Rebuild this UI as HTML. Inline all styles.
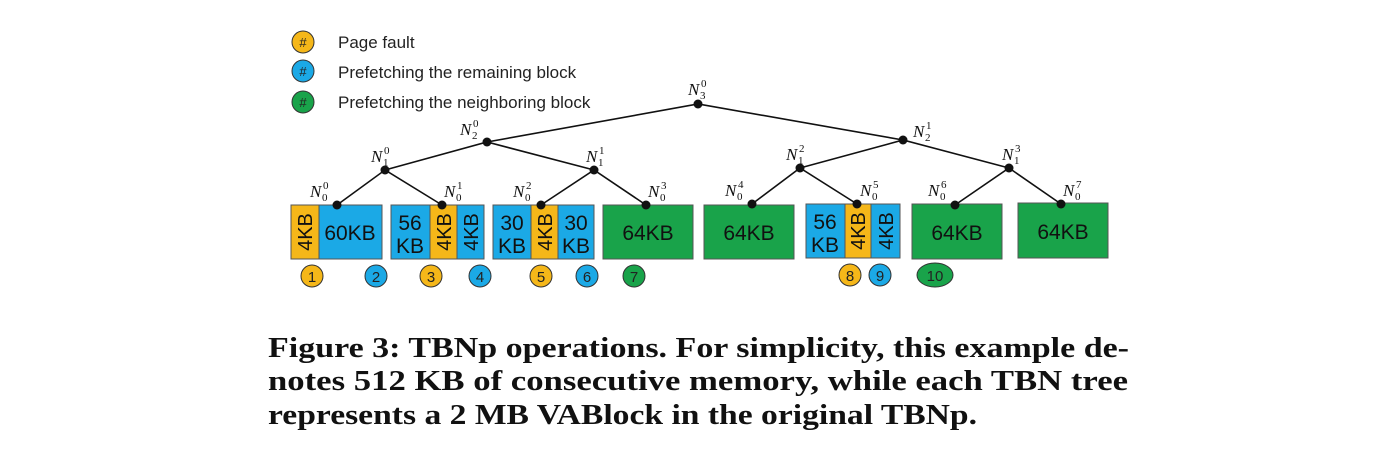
<!DOCTYPE html>
<html><head><meta charset="utf-8"><style>
html,body{margin:0;padding:0;background:#fff;width:1400px;height:467px;overflow:hidden}
</style></head><body>
<svg width="1400" height="467" viewBox="0 0 1400 467" xmlns="http://www.w3.org/2000/svg">
<g font-family="Liberation Sans, DejaVu Sans, sans-serif">
<g stroke="#333" stroke-width="1">
<circle cx="303" cy="42" r="11" fill="#f5b719"/>
<circle cx="303" cy="71" r="11" fill="#1ba9e6"/>
<circle cx="303" cy="102" r="11" fill="#19a34a"/>
</g>
<g font-size="13" text-anchor="middle" fill="#222">
<text x="303" y="47">#</text><text x="303" y="76">#</text><text x="303" y="107">#</text>
</g>
<g font-size="17" fill="#222">
<text x="338" y="48">Page fault</text>
<text x="338" y="78">Prefetching the remaining block</text>
<text x="338" y="108">Prefetching the neighboring block</text>
</g>
<g stroke="#555" stroke-width="1">
<rect x="291" y="205" width="28" height="54" fill="#f5b719"/>
<rect x="319" y="205" width="63" height="54" fill="#1ba9e6"/>
<rect x="391" y="205" width="39" height="54" fill="#1ba9e6"/>
<rect x="430" y="205" width="27" height="54" fill="#f5b719"/>
<rect x="457" y="205" width="27" height="54" fill="#1ba9e6"/>
<rect x="493" y="205" width="38" height="54" fill="#1ba9e6"/>
<rect x="531" y="205" width="27" height="54" fill="#f5b719"/>
<rect x="558" y="205" width="36" height="54" fill="#1ba9e6"/>
<rect x="603" y="205" width="90" height="54" fill="#19a34a"/>
<rect x="704" y="205" width="90" height="54" fill="#19a34a"/>
<rect x="806" y="204" width="39" height="54" fill="#1ba9e6"/>
<rect x="845" y="204" width="26" height="54" fill="#f5b719"/>
<rect x="871" y="204" width="29" height="54" fill="#1ba9e6"/>
<rect x="912" y="204" width="90" height="55" fill="#19a34a"/>
<rect x="1018" y="203" width="90" height="55" fill="#19a34a"/>
</g>
<g font-size="21" fill="#111" text-anchor="middle">
<text x="350" y="240">60KB</text>
<text x="410" y="230">56</text><text x="410" y="253">KB</text>
<text x="512" y="230">30</text><text x="512" y="253">KB</text>
<text x="576" y="230">30</text><text x="576" y="253">KB</text>
<text x="648" y="240">64KB</text>
<text x="749" y="240">64KB</text>
<text x="825" y="229">56</text><text x="825" y="252">KB</text>
<text x="957" y="240">64KB</text>
<text x="1063" y="239">64KB</text>
<g font-size="20">
<text transform="translate(312,232) rotate(-90)">4KB</text>
<text transform="translate(451,232) rotate(-90)">4KB</text>
<text transform="translate(478,232) rotate(-90)">4KB</text>
<text transform="translate(552,232) rotate(-90)">4KB</text>
<text transform="translate(865,231) rotate(-90)">4KB</text>
<text transform="translate(893,231) rotate(-90)">4KB</text>
</g>
</g>
<g stroke="#111" stroke-width="1.6" fill="none">
<polyline points="487,142 698,104 903,140"/>
<polyline points="385,170 487,142 594,170"/>
<polyline points="800,168 903,140 1009,168"/>
<polyline points="337,205 385,170 442,205"/>
<polyline points="541,205 594,170 646,205"/>
<polyline points="752,204 800,168 857,204"/>
<polyline points="955,205 1009,168 1061,204"/>
</g>
<g fill="#111">
<circle cx="698" cy="104" r="4.5"/><circle cx="487" cy="142" r="4.5"/><circle cx="903" cy="140" r="4.5"/>
<circle cx="385" cy="170" r="4.5"/><circle cx="594" cy="170" r="4.5"/><circle cx="800" cy="168" r="4.5"/><circle cx="1009" cy="168" r="4.5"/>
<circle cx="337" cy="205" r="4.5"/><circle cx="442" cy="205" r="4.5"/><circle cx="541" cy="205" r="4.5"/><circle cx="646" cy="205" r="4.5"/>
<circle cx="752" cy="204" r="4.5"/><circle cx="857" cy="204" r="4.5"/><circle cx="955" cy="205" r="4.5"/><circle cx="1061" cy="204" r="4.5"/>
</g>
<g font-family="Liberation Serif, serif" font-style="italic" font-size="17" fill="#111">
<text x="688" y="95">N</text><text x="460" y="135">N</text><text x="913" y="137">N</text>
<text x="371" y="162">N</text><text x="586" y="162">N</text><text x="786" y="160">N</text><text x="1002" y="160">N</text>
<text x="310" y="197">N</text><text x="444" y="197">N</text><text x="513" y="197">N</text><text x="648" y="197">N</text>
<text x="725" y="196">N</text><text x="860" y="196">N</text><text x="928" y="196">N</text><text x="1063" y="196">N</text>
<g font-size="11" font-style="normal">
<text x="700" y="99">3</text><text x="701" y="87">0</text>
<text x="472" y="139">2</text><text x="473" y="127">0</text>
<text x="925" y="141">2</text><text x="926" y="129">1</text>
<text x="383" y="166">1</text><text x="384" y="154">0</text>
<text x="598" y="166">1</text><text x="599" y="154">1</text>
<text x="798" y="164">1</text><text x="799" y="152">2</text>
<text x="1014" y="164">1</text><text x="1015" y="152">3</text>
<text x="322" y="201">0</text><text x="323" y="189">0</text>
<text x="456" y="201">0</text><text x="457" y="189">1</text>
<text x="525" y="201">0</text><text x="526" y="189">2</text>
<text x="660" y="201">0</text><text x="661" y="189">3</text>
<text x="737" y="200">0</text><text x="738" y="188">4</text>
<text x="872" y="200">0</text><text x="873" y="188">5</text>
<text x="940" y="200">0</text><text x="941" y="188">6</text>
<text x="1075" y="200">0</text><text x="1076" y="188">7</text>
</g>
</g>
<g stroke="#333" stroke-width="1">
<circle cx="312" cy="276" r="11" fill="#f5b719"/>
<circle cx="376" cy="276" r="11" fill="#1ba9e6"/>
<circle cx="431" cy="276" r="11" fill="#f5b719"/>
<circle cx="480" cy="276" r="11" fill="#1ba9e6"/>
<circle cx="541" cy="276" r="11" fill="#f5b719"/>
<circle cx="587" cy="276" r="11" fill="#1ba9e6"/>
<circle cx="634" cy="276" r="11" fill="#19a34a"/>
<circle cx="850" cy="275" r="11" fill="#f5b719"/>
<circle cx="880" cy="275" r="11" fill="#1ba9e6"/>
<ellipse cx="935" cy="275" rx="18" ry="12" fill="#19a34a"/>
</g>
<g font-size="15" fill="#222" text-anchor="middle">
<text x="312" y="282">1</text><text x="376" y="282">2</text><text x="431" y="282">3</text><text x="480" y="282">4</text>
<text x="541" y="282">5</text><text x="587" y="282">6</text><text x="634" y="282">7</text>
<text x="850" y="281">8</text><text x="880" y="281">9</text><text x="935" y="281">10</text>
</g>
</g>
<g font-family="Liberation Serif, serif" font-weight="bold" font-size="28" fill="#111">
<text x="268" y="357" textLength="861" lengthAdjust="spacingAndGlyphs">Figure 3: TBNp operations. For simplicity, this example de-</text>
<text x="268" y="390" textLength="860" lengthAdjust="spacingAndGlyphs">notes 512 KB of consecutive memory, while each TBN tree</text>
<text x="268" y="424" textLength="709" lengthAdjust="spacingAndGlyphs">represents a 2 MB VABlock in the original TBNp.</text>
</g>
</svg>
</body></html>
